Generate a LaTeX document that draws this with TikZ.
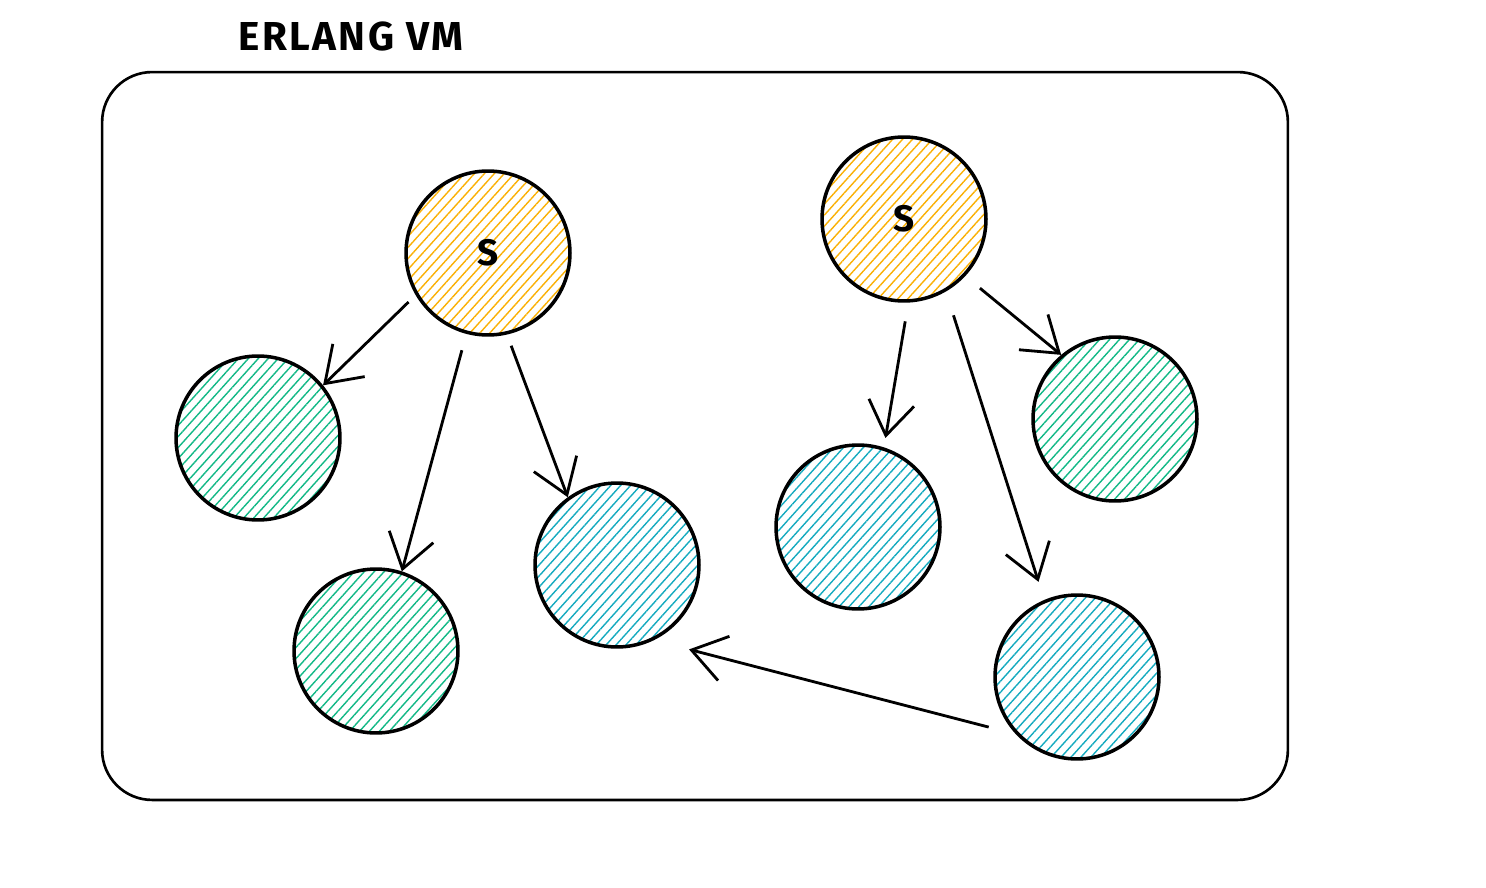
\documentclass[tikz,border=0pt]{standalone}
\usepackage{fontspec}
\setmainfont{Fira Sans}
\usetikzlibrary{arrows.meta,patterns.meta}

\definecolor{sorange}{HTML}{FAB005}
\definecolor{wgreen}{HTML}{12B886}
\definecolor{wblue}{HTML}{15AABF}

\tikzset{
  proc/.style={circle, draw, line width=2pt, minimum size=3.28cm, inner sep=0pt,
    pattern={Lines[angle=48, distance=4.2pt, line width=0.8pt]}},
  sup/.style={proc, pattern color=sorange, font=\fontsize{21}{21}\selectfont\bfseries},
  wgr/.style={proc, pattern color=wgreen},
  wbl/.style={proc, pattern color=wblue},
  vmbox/.style={draw, line width=1.5pt, rounded corners=1cm, minimum width=23.72cm, minimum height=14.56cm},
  arr/.style={->, line width=1.6pt}
}

\begin{document}
\begin{tikzpicture}[x=0.02cm, y=-0.02cm, >={Straight Barb[length=19pt, width=26pt, line width=1.6pt]}]
  \useasboundingbox (0,0) rectangle (1486,888);

  % VM
  \node[vmbox] (vm) at (695,436) {};
  \node[anchor=west, font=\fontsize{23}{23}\selectfont\bfseries\addfontfeature{LetterSpace=6}, inner sep=0pt] (title) at (238,37) {ERLANG VM};

  % supervisores
  \node[sup] (s1) at (488,253) {S};
  \node[sup] (s2) at (904,219) {S};

  % workers
  \node[wgr] (g1) at (258,438) {};
  \node[wgr] (g2) at (376,651) {};
  \node[wbl] (b1) at (617,565) {};
  \node[wbl] (b2) at (858,527) {};
  \node[wgr] (g3) at (1115,419) {};
  \node[wbl] (b3) at (1077,677) {};

  % enlaces
  \draw[arr, shorten <=0.22cm] (s1.210) -- (g1.39);
  \draw[arr, shorten <=0.36cm] (s1.255) -- (g2.72);
  \draw[arr, shorten <=0.26cm] (s1.283) -- (b1.126);
  \draw[arr, shorten <=0.38cm, shorten >=0.19cm] (s2.273) -- (b2.72);
  \draw[arr, shorten <=0.38cm] (s2.317) -- (g3.130);
  \draw[arr, shorten <=0.5cm, shorten >=0.38cm] (s2.300) -- (b3.113);
  \draw[arr, shorten <=0.56cm, shorten >=0.73cm] (b3.223) -- (b1.296);
\end{tikzpicture}
\end{document}
